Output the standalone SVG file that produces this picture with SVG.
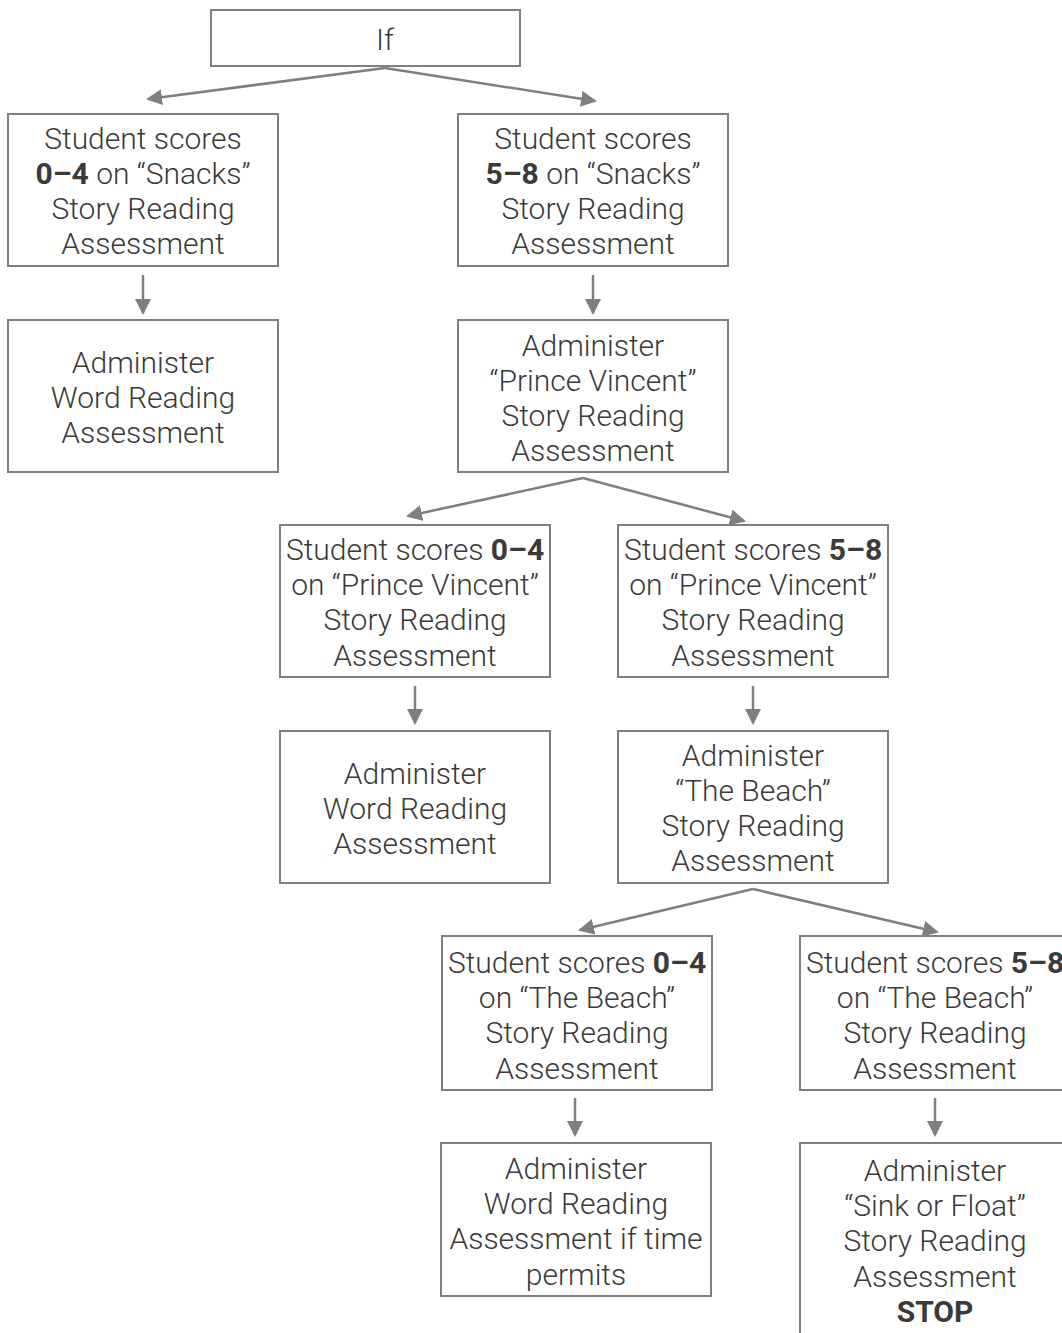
<svg xmlns="http://www.w3.org/2000/svg" width="1062" height="1333" viewBox="0 0 1062 1333">
<style>
.box{fill:#fff;stroke:#7f7f7f;stroke-width:2}
.t{font-family:Roboto,"Liberation Sans",sans-serif;font-weight:300;font-size:30px;fill:#3a3a3a;text-anchor:middle}
.b{font-weight:700}
.c{stroke:#7f7f7f;stroke-width:2.5;fill:none;marker-end:url(#ah)}
</style>
<defs>
<marker id="ah" markerUnits="userSpaceOnUse" markerWidth="16" markerHeight="16" viewBox="0 0 16 16" refX="14" refY="8" orient="auto">
<path d="M0,0 L16,8 L0,16 Z" fill="#7f7f7f"/>
</marker>
</defs>
<rect width="1062" height="1333" fill="#fff"/>
<g id="connectors">
<line class="c" x1="385" y1="68" x2="148" y2="99"/>
<line class="c" x1="385" y1="68" x2="595" y2="101"/>
<line class="c" x1="143" y1="275" x2="143" y2="313"/>
<line class="c" x1="593" y1="275" x2="593" y2="313"/>
<line class="c" x1="583" y1="478" x2="408" y2="516"/>
<line class="c" x1="583" y1="478" x2="744" y2="521"/>
<line class="c" x1="415" y1="686" x2="415" y2="723"/>
<line class="c" x1="753" y1="686" x2="753" y2="723"/>
<line class="c" x1="753" y1="889" x2="580" y2="930"/>
<line class="c" x1="753" y1="889" x2="937" y2="932"/>
<line class="c" x1="575" y1="1098" x2="575" y2="1135"/>
<line class="c" x1="935" y1="1098" x2="935" y2="1135"/>
</g>
<g id="n-if"><rect class="box" x="211" y="10" width="309" height="56"/><text class="t" x="385" y="50">If</text></g>
<g id="n-a1"><rect class="box" x="8" y="114" width="270" height="152"/>
<text class="t" x="143" y="149">Student scores</text>
<text class="t" x="143" y="184"><tspan class="b">0–4</tspan> on “Snacks”</text>
<text class="t" x="143" y="219">Story Reading</text>
<text class="t" x="143" y="254">Assessment</text></g>
<g id="n-b1"><rect class="box" x="458" y="114" width="270" height="152"/>
<text class="t" x="593" y="149">Student scores</text>
<text class="t" x="593" y="184"><tspan class="b">5–8</tspan> on “Snacks”</text>
<text class="t" x="593" y="219">Story Reading</text>
<text class="t" x="593" y="254">Assessment</text></g>
<g id="n-a2"><rect class="box" x="8" y="320" width="270" height="152"/>
<text class="t" x="143" y="373">Administer</text>
<text class="t" x="143" y="408">Word Reading</text>
<text class="t" x="143" y="443">Assessment</text></g>
<g id="n-b2"><rect class="box" x="458" y="320" width="270" height="152"/>
<text class="t" x="593" y="356">Administer</text>
<text class="t" x="593" y="391">“Prince Vincent”</text>
<text class="t" x="593" y="426">Story Reading</text>
<text class="t" x="593" y="461">Assessment</text></g>
<g id="n-c1"><rect class="box" x="280" y="525" width="270" height="152"/>
<text class="t" x="415" y="560">Student scores <tspan class="b">0–4</tspan></text>
<text class="t" x="415" y="595">on “Prince Vincent”</text>
<text class="t" x="415" y="630">Story Reading</text>
<text class="t" x="415" y="666">Assessment</text></g>
<g id="n-d1"><rect class="box" x="618" y="525" width="270" height="152"/>
<text class="t" x="753" y="560">Student scores <tspan class="b">5–8</tspan></text>
<text class="t" x="753" y="595">on “Prince Vincent”</text>
<text class="t" x="753" y="630">Story Reading</text>
<text class="t" x="753" y="666">Assessment</text></g>
<g id="n-c2"><rect class="box" x="280" y="731" width="270" height="152"/>
<text class="t" x="415" y="784">Administer</text>
<text class="t" x="415" y="819">Word Reading</text>
<text class="t" x="415" y="854">Assessment</text></g>
<g id="n-d2"><rect class="box" x="618" y="731" width="270" height="152"/>
<text class="t" x="753" y="766">Administer</text>
<text class="t" x="753" y="801">“The Beach”</text>
<text class="t" x="753" y="836">Story Reading</text>
<text class="t" x="753" y="871">Assessment</text></g>
<g id="n-e1"><rect class="box" x="442" y="936" width="270" height="154"/>
<text class="t" x="577" y="973">Student scores <tspan class="b">0–4</tspan></text>
<text class="t" x="577" y="1008">on “The Beach”</text>
<text class="t" x="577" y="1043">Story Reading</text>
<text class="t" x="577" y="1079">Assessment</text></g>
<g id="n-f1"><rect class="box" x="800" y="936" width="270" height="154"/>
<text class="t" x="935" y="973">Student scores <tspan class="b">5–8</tspan></text>
<text class="t" x="935" y="1008">on “The Beach”</text>
<text class="t" x="935" y="1043">Story Reading</text>
<text class="t" x="935" y="1079">Assessment</text></g>
<g id="n-e2"><rect class="box" x="441" y="1143" width="270" height="153"/>
<text class="t" x="576" y="1179">Administer</text>
<text class="t" x="576" y="1214">Word Reading</text>
<text class="t" x="576" y="1249">Assessment if time</text>
<text class="t" x="576" y="1285">permits</text></g>
<g id="n-f2"><rect class="box" x="800" y="1143" width="270" height="200"/>
<text class="t" x="935" y="1181">Administer</text>
<text class="t" x="935" y="1216">“Sink or Float”</text>
<text class="t" x="935" y="1251">Story Reading</text>
<text class="t" x="935" y="1287">Assessment</text>
<text class="t b" x="935" y="1322">STOP</text></g>
</svg>
